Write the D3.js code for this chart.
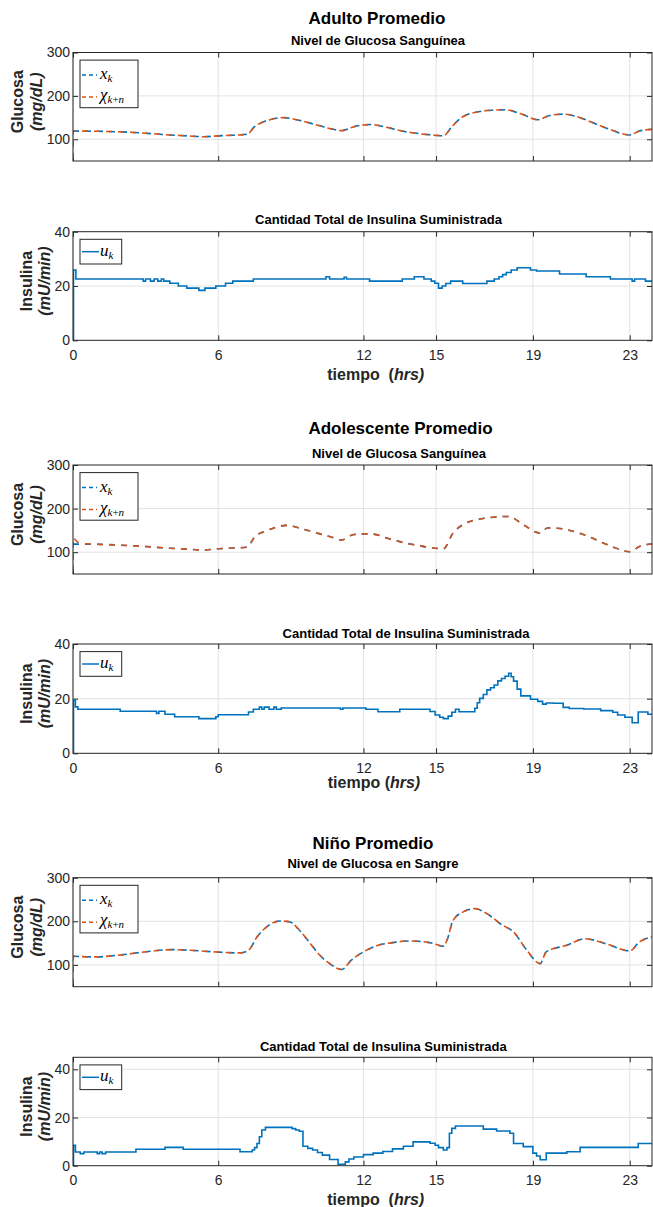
<!DOCTYPE html>
<html>
<head>
<meta charset="utf-8">
<script src="https://cdn.jsdelivr.net/npm/d3@7"></script>
<style>
  body { margin: 0; background: #fff; }
  svg text { font-family: "Liberation Sans", Arial, Helvetica, sans-serif; }
</style>
</head>
<body>
<svg id="fig" width="653" height="1207"></svg>
<script>
// ---------- datos ----------
const horasTicks = [0, 6, 12, 15, 19, 23];
const horaFinal = 23.92;
const glucosaRango = [50, 300];
const glucosaTicks = [100, 200, 300];
const insulinaTicks = [0, 20, 40];
const insulinaMax = [40, 40, 45];

const titulos = ["Adulto Promedio", "Adolescente Promedio", "Niño Promedio"];
const subtitulosGlucosa = ["Nivel de Glucosa Sanguínea", "Nivel de Glucosa Sanguínea", "Nivel de Glucosa en Sangre"];
const subtituloInsulina = "Cantidad Total de Insulina Suministrada";

// glucosa medida x_k  [hora, mg/dL]
const adultoGlucosa = [[0,119],[1,118.5],[2,117],[3,114],[4,110],[4.7,108],[5.4,106],[6,108],[6.6,109.5],[7.2,111.6],[7.5,129],[8.0,143],[8.7,150],[9.4,143],[10.2,131],[10.6,125],[11.1,120],[11.6,129],[12.0,133],[12.3,134],[13.0,127],[13.6,119],[14.3,113],[15.0,109],[15.3,108],[15.65,129],[16.1,152],[16.8,164],[17.3,167],[17.85,168],[18.5,159],[19.2,145],[19.7,155],[20.3,158],[20.7,154],[21.1,146.5],[22.05,125.6],[23.0,110],[23.4,119],[23.92,123]];
const adolescenteGlucosa = [[0,118.5],[1.1,118],[2,116],[3,113],[4,109],[4.55,107.6],[5.4,105],[6.0,108],[6.6,109.5],[7.2,111.5],[7.5,134.6],[8.0,149],[8.8,161.5],[9.5,153],[10.2,142],[10.6,136],[11.1,128],[11.6,140.7],[12.3,142],[13.0,132],[13.65,122],[14.2,116],[14.75,110.7],[15.3,108],[15.7,144],[16.25,167],[17.1,178.5],[18.0,182],[18.6,163],[19.3,144],[19.6,155.4],[20.0,155],[20.7,147.6],[21.2,138],[22.2,114.5],[23.0,101],[23.4,113],[23.92,119]];
const ninoGlucosa = [[0,120],[0.84,118.3],[2,123],[3.0,130],[4.1,135],[5.0,133],[5.8,130],[6.9,127.5],[7.25,133.6],[7.6,164],[8.0,187],[8.55,200.7],[8.95,199],[9.3,183],[9.65,160],[10.2,122],[10.6,103],[11.1,89.5],[11.5,111],[12.0,130],[12.6,145],[13.2,151],[13.9,155],[14.75,151],[15.3,143],[15.45,156.5],[15.7,202],[16.1,221],[16.6,229],[17.1,217.6],[17.7,192.5],[18.2,175.5],[18.75,133.6],[19.3,103],[19.55,130],[20.4,145],[21.15,160],[22.05,148],[23.0,132],[23.4,152.6],[23.92,164]];

// arranque del estimador chi_{k+n}
const adultoChiInicio = [[0,0],[0,119]];
const adolescenteChiInicio = [[0,0],[0,133.7],[0.25,120]];
const ninoChiInicio = [[0,0],[0,120]];

// insulina u_k [hora, mU/min] (escalonada)
const adultoInsulina = [[0,0],[0.02,25.9],[0.12,22.6],[2.9,21.8],[3.0,22.6],[3.2,21.8],[3.35,22.6],[3.5,21.8],[3.65,22.6],[3.75,21.8],[4.0,21.0],[4.35,20.0],[4.7,19.2],[5.2,18.4],[5.45,19.2],[5.9,20.0],[6.3,21.0],[6.6,21.8],[7.45,22.6],[10.45,23.4],[10.6,22.6],[11.2,23.2],[11.3,22.6],[12.25,21.8],[13.6,22.6],[14.1,23.4],[14.5,22.6],[14.8,21.8],[14.95,21.0],[15.1,19.2],[15.25,20.0],[15.4,20.9],[15.6,21.8],[16.1,20.9],[17.1,21.8],[17.4,22.6],[17.6,23.4],[17.75,24.2],[17.9,25.0],[18.1,25.9],[18.35,26.7],[18.9,25.9],[19.15,25.5],[20.1,24.4],[21.2,23.4],[22.2,22.6],[23.1,21.8],[23.2,22.6],[23.65,21.8],[23.92,21.8]];
const adolescenteInsulina = [[0,0],[0.02,19.5],[0.1,17],[0.2,16.1],[1.95,15.4],[3.45,14.6],[3.55,15.4],[3.7,15.4],[3.8,14.3],[4.2,13.4],[5.2,12.7],[5.9,13.4],[6.0,14.1],[7.25,15.1],[7.45,16.1],[7.7,16.9],[7.8,16.1],[7.9,16.9],[8.1,16.1],[8.3,16.9],[8.4,16.1],[8.6,16.6],[11.05,16.1],[11.15,16.6],[12.1,16.1],[12.6,15.2],[13.5,16.1],[14.75,15.3],[14.96,14.0],[15.15,13.2],[15.3,12.7],[15.5,13.6],[15.65,15.0],[15.8,16.1],[15.95,15.2],[16.6,16.5],[16.7,18.5],[16.8,20.1],[16.95,21.5],[17.1,23.2],[17.25,24.0],[17.4,25.0],[17.55,26.5],[17.7,27.4],[17.85,28.2],[18.0,29.3],[18.1,28.0],[18.2,26.4],[18.35,23.5],[18.5,21.0],[18.9,19.8],[19.2,19.0],[19.4,18.0],[19.55,18.4],[19.85,18.3],[20.25,16.8],[20.5,16.4],[21.1,16.2],[21.8,15.6],[22.3,15.0],[22.5,14.0],[22.8,13.2],[23.1,11.2],[23.35,15.1],[23.75,14.3],[23.92,14.3]];
const ninoInsulina = [[0,0],[0.02,8.5],[0.1,5.7],[0.3,5.0],[0.45,5.7],[1.0,5.0],[1.1,5.7],[1.2,5.0],[1.35,5.7],[2.6,6.8],[3.8,7.6],[4.55,6.8],[6.9,5.8],[7.4,6.5],[7.5,7.5],[7.6,9.2],[7.7,12],[7.8,14.8],[7.95,15.9],[9.05,15.4],[9.2,14.8],[9.35,14.3],[9.5,8.1],[9.7,7.2],[9.9,6.5],[10.1,5.5],[10.3,4.4],[10.6,2.6],[10.95,0.6],[11.25,1.6],[11.4,2.8],[11.6,3.6],[12.0,4.6],[12.4,5.2],[12.8,5.9],[13.2,7.0],[13.65,8.1],[14.05,9.9],[14.75,9.3],[14.96,8.5],[15.1,7.5],[15.3,6.5],[15.45,7.5],[15.55,13.5],[15.65,15.5],[15.8,16.5],[16.95,15.2],[17.5,14.4],[18.05,13.5],[18.2,9.2],[18.6,7.9],[19.0,5.2],[19.15,4.0],[19.3,2.5],[19.55,5.2],[20.4,5.8],[20.95,7.6],[23.15,7.6],[23.35,9.2],[23.92,9.2]];

const perfiles = [
  { glucosa: adultoGlucosa, chiInicio: adultoChiInicio, insulina: adultoInsulina },
  { glucosa: adolescenteGlucosa, chiInicio: adolescenteChiInicio, insulina: adolescenteInsulina },
  { glucosa: ninoGlucosa, chiInicio: ninoChiInicio, insulina: ninoInsulina }
];

// ---------- disposición ----------
const X0 = 73, X1 = 652;
const disposicion = [
  { tituloX: 377, tituloY: 24,
    g: { top: 52.5, bottom: 161, subX: 378, subY: 45 },
    i: { top: 231.7, bottom: 340.3, subX: 378.5, subY: 224, xlabX: 375.7, xlabY: 380, hueco: 4.5 } },
  { tituloX: 400.5, tituloY: 434,
    g: { top: 465, bottom: 574, subX: 399, subY: 458 },
    i: { top: 644, bottom: 753.3, subX: 406, subY: 638, xlabX: 374, xlabY: 788, hueco: 0 } },
  { tituloX: 373, tituloY: 849,
    g: { top: 877.7, bottom: 986.7, subX: 373, subY: 868 },
    i: { top: 1057.3, bottom: 1165.7, subX: 383.3, subY: 1050.7, xlabX: 375.7, xlabY: 1205, hueco: 4.5 } }
];

const AZUL = "#0072BD", NARANJA = "#D95319", TINTA = "#262626", REJILLA = "#e3e3e3";
const SERIF = "'Liberation Serif', 'DejaVu Serif', serif";
const GUION = "6,6";

const svg = d3.select("#fig");
const x = d3.scaleLinear().domain([0, horaFinal]).range([X0, X1]);
let clipId = 0;

function ejes(top, bottom, yDom, yTicks, conEtiquetasX) {
  const y = d3.scaleLinear().domain(yDom).range([bottom, top]);
  const g = svg.append("g");
  // rejilla
  g.append("g").selectAll("line").data(horasTicks).join("line")
    .attr("x1", d => x(d)).attr("x2", d => x(d)).attr("y1", top).attr("y2", bottom)
    .attr("stroke", REJILLA).attr("stroke-width", 1);
  g.append("g").selectAll("line").data(yTicks.filter(v => v > yDom[0] && v < yDom[1])).join("line")
    .attr("x1", X0).attr("x2", X1).attr("y1", d => y(d)).attr("y2", d => y(d))
    .attr("stroke", REJILLA).attr("stroke-width", 1);

  const estilo = sel => {
    sel.select(".domain").remove();
    sel.selectAll(".tick line").attr("stroke", TINTA);
    sel.selectAll("text").attr("fill", TINTA).attr("font-size", 14);
  };
  g.append("g").attr("transform", `translate(0,${bottom})`)
    .call(d3.axisBottom(x).tickValues(horasTicks).tickSize(-5).tickPadding(9.5)
      .tickFormat(conEtiquetasX ? d3.format("d") : () => ""))
    .call(estilo);
  g.append("g").attr("transform", `translate(0,${top})`)
    .call(d3.axisTop(x).tickValues(horasTicks).tickSize(-5).tickFormat(() => ""))
    .call(estilo);
  g.append("g").attr("transform", `translate(${X0},0)`)
    .call(d3.axisLeft(y).tickValues(yTicks).tickSize(-5).tickPadding(3))
    .call(estilo);
  g.append("g").attr("transform", `translate(${X1},0)`)
    .call(d3.axisRight(y).tickValues(yTicks).tickSize(-5).tickFormat(() => ""))
    .call(estilo);

  const id = "clip" + (clipId++);
  svg.append("clipPath").attr("id", id).append("rect")
    .attr("x", X0).attr("y", top).attr("width", X1 - X0).attr("height", bottom - top);
  const trazos = svg.append("g").attr("clip-path", `url(#${id})`);
  return { y, g, trazos, marco: () => svg.append("rect")
    .attr("x", X0).attr("y", top).attr("width", X1 - X0).attr("height", bottom - top)
    .attr("fill", "none").attr("stroke", TINTA).attr("stroke-width", 1) };
}

function etiquetaY(cy, linea1, linea2, b1, b2) {
  svg.append("text").attr("transform", `translate(${b1},${cy}) rotate(-90)`)
    .attr("text-anchor", "middle").attr("font-size", 16).attr("font-weight", "bold")
    .attr("fill", TINTA).text(linea1);
  svg.append("text").attr("transform", `translate(${b2},${cy}) rotate(-90)`)
    .attr("text-anchor", "middle").attr("font-size", 16).attr("font-weight", "bold")
    .attr("font-style", "italic").attr("fill", TINTA).text(linea2);
}

function texto(xx, yy, t, size) {
  return svg.append("text").attr("x", xx).attr("y", yy).attr("text-anchor", "middle")
    .attr("font-size", size).attr("font-weight", "bold").attr("fill", "#000").text(t);
}

perfiles.forEach((p, k) => {
  const L = disposicion[k];
  texto(L.tituloX, L.tituloY, titulos[k], 17);

  // ----- glucosa -----
  const G = L.g;
  texto(G.subX, G.subY, subtitulosGlucosa[k], 13);
  const eg = ejes(G.top, G.bottom, glucosaRango, glucosaTicks, false);
  const lineaSuave = d3.line().x(d => x(d[0])).y(d => eg.y(d[1])).curve(d3.curveMonotoneX);
  const lineaRecta = d3.line().x(d => x(d[0])).y(d => eg.y(d[1]));
  eg.trazos.append("path").attr("d", lineaSuave(p.glucosa))
    .attr("fill", "none").attr("stroke", AZUL).attr("stroke-width", 1.6)
    .attr("stroke-dasharray", GUION);
  const ultimo = p.chiInicio[p.chiInicio.length - 1];
  const chiResto = [ultimo].concat(p.glucosa.filter(d => d[0] > ultimo[0]));
  eg.trazos.append("path").attr("d", lineaRecta(p.chiInicio))
    .attr("fill", "none").attr("stroke", NARANJA).attr("stroke-width", 1.6)
    .attr("stroke-dasharray", GUION);
  eg.trazos.append("path").attr("d", lineaSuave(chiResto))
    .attr("fill", "none").attr("stroke", NARANJA).attr("stroke-width", 1.6)
    .attr("stroke-dasharray", GUION).attr("stroke-dashoffset", k === 1 ? 6 : 3);
  eg.marco();
  etiquetaY((G.top + G.bottom) / 2 - 5, "Glucosa", "(mg/dL)", 23.3, 41.5);

  // leyenda glucosa
  const lg = svg.append("g").attr("transform", `translate(80,${G.top + 7.6})`);
  lg.append("rect").attr("width", 58).attr("height", 47.6)
    .attr("fill", "#fff").attr("stroke", TINTA).attr("stroke-width", 1);
  lg.append("line").attr("x1", 2).attr("x2", 17).attr("y1", 15).attr("y2", 15)
    .attr("stroke", AZUL).attr("stroke-width", 1.5).attr("stroke-dasharray", "4,3");
  lg.append("line").attr("x1", 2).attr("x2", 17).attr("y1", 37).attr("y2", 37)
    .attr("stroke", NARANJA).attr("stroke-width", 1.5).attr("stroke-dasharray", "4,3");
  const t1 = lg.append("text").attr("x", 20).attr("y", 19).attr("font-size", 17)
    .attr("fill", "#000").style("font-family", SERIF).attr("font-style", "italic");
  t1.append("tspan").text("x");
  t1.append("tspan").attr("font-size", 11).attr("dy", 3).text("k");
  const t2 = lg.append("text").attr("x", 20).attr("y", 40).attr("font-size", 17)
    .attr("fill", "#000").style("font-family", SERIF).attr("font-style", "italic");
  t2.append("tspan").text("χ");
  t2.append("tspan").attr("font-size", 11).attr("dy", 3).text("k");
  t2.append("tspan").attr("font-size", 11).attr("font-style", "normal").text("+");
  t2.append("tspan").attr("font-size", 11).text("n");

  // ----- insulina -----
  const I = L.i;
  texto(I.subX, I.subY, subtituloInsulina, 13);
  const ei = ejes(I.top, I.bottom, [0, insulinaMax[k]], insulinaTicks, true);
  const escalon = d3.line().x(d => x(d[0])).y(d => ei.y(d[1])).curve(d3.curveStepAfter);
  ei.trazos.append("path").attr("d", escalon(p.insulina))
    .attr("fill", "none").attr("stroke", AZUL).attr("stroke-width", 1.6);
  ei.marco();
  etiquetaY((I.top + I.bottom) / 2 - 5, "Insulina", "(mU/min)", 31.7, 49.5);

  // leyenda insulina
  const li = svg.append("g").attr("transform", `translate(80,${I.top + 7.6})`);
  li.append("rect").attr("width", 41.7).attr("height", 24.7)
    .attr("fill", "#fff").attr("stroke", TINTA).attr("stroke-width", 1);
  li.append("line").attr("x1", 2).attr("x2", 19).attr("y1", 12.4).attr("y2", 12.4)
    .attr("stroke", AZUL).attr("stroke-width", 1.5);
  const t3 = li.append("text").attr("x", 20).attr("y", 16.5).attr("font-size", 17)
    .attr("fill", "#000").style("font-family", SERIF).attr("font-style", "italic");
  t3.append("tspan").text("u");
  t3.append("tspan").attr("font-size", 11).attr("dy", 3).text("k");

  // etiqueta del eje x
  const xl = svg.append("text").attr("x", I.xlabX).attr("y", I.xlabY).attr("text-anchor", "middle")
    .attr("font-size", 16).attr("font-weight", "bold").attr("fill", TINTA);
  xl.append("tspan").text("tiempo");
  xl.append("tspan").attr("dx", 4.4 + I.hueco).text("(");
  xl.append("tspan").attr("font-style", "italic").text("hrs)");
});
</script>
</body>
</html>
